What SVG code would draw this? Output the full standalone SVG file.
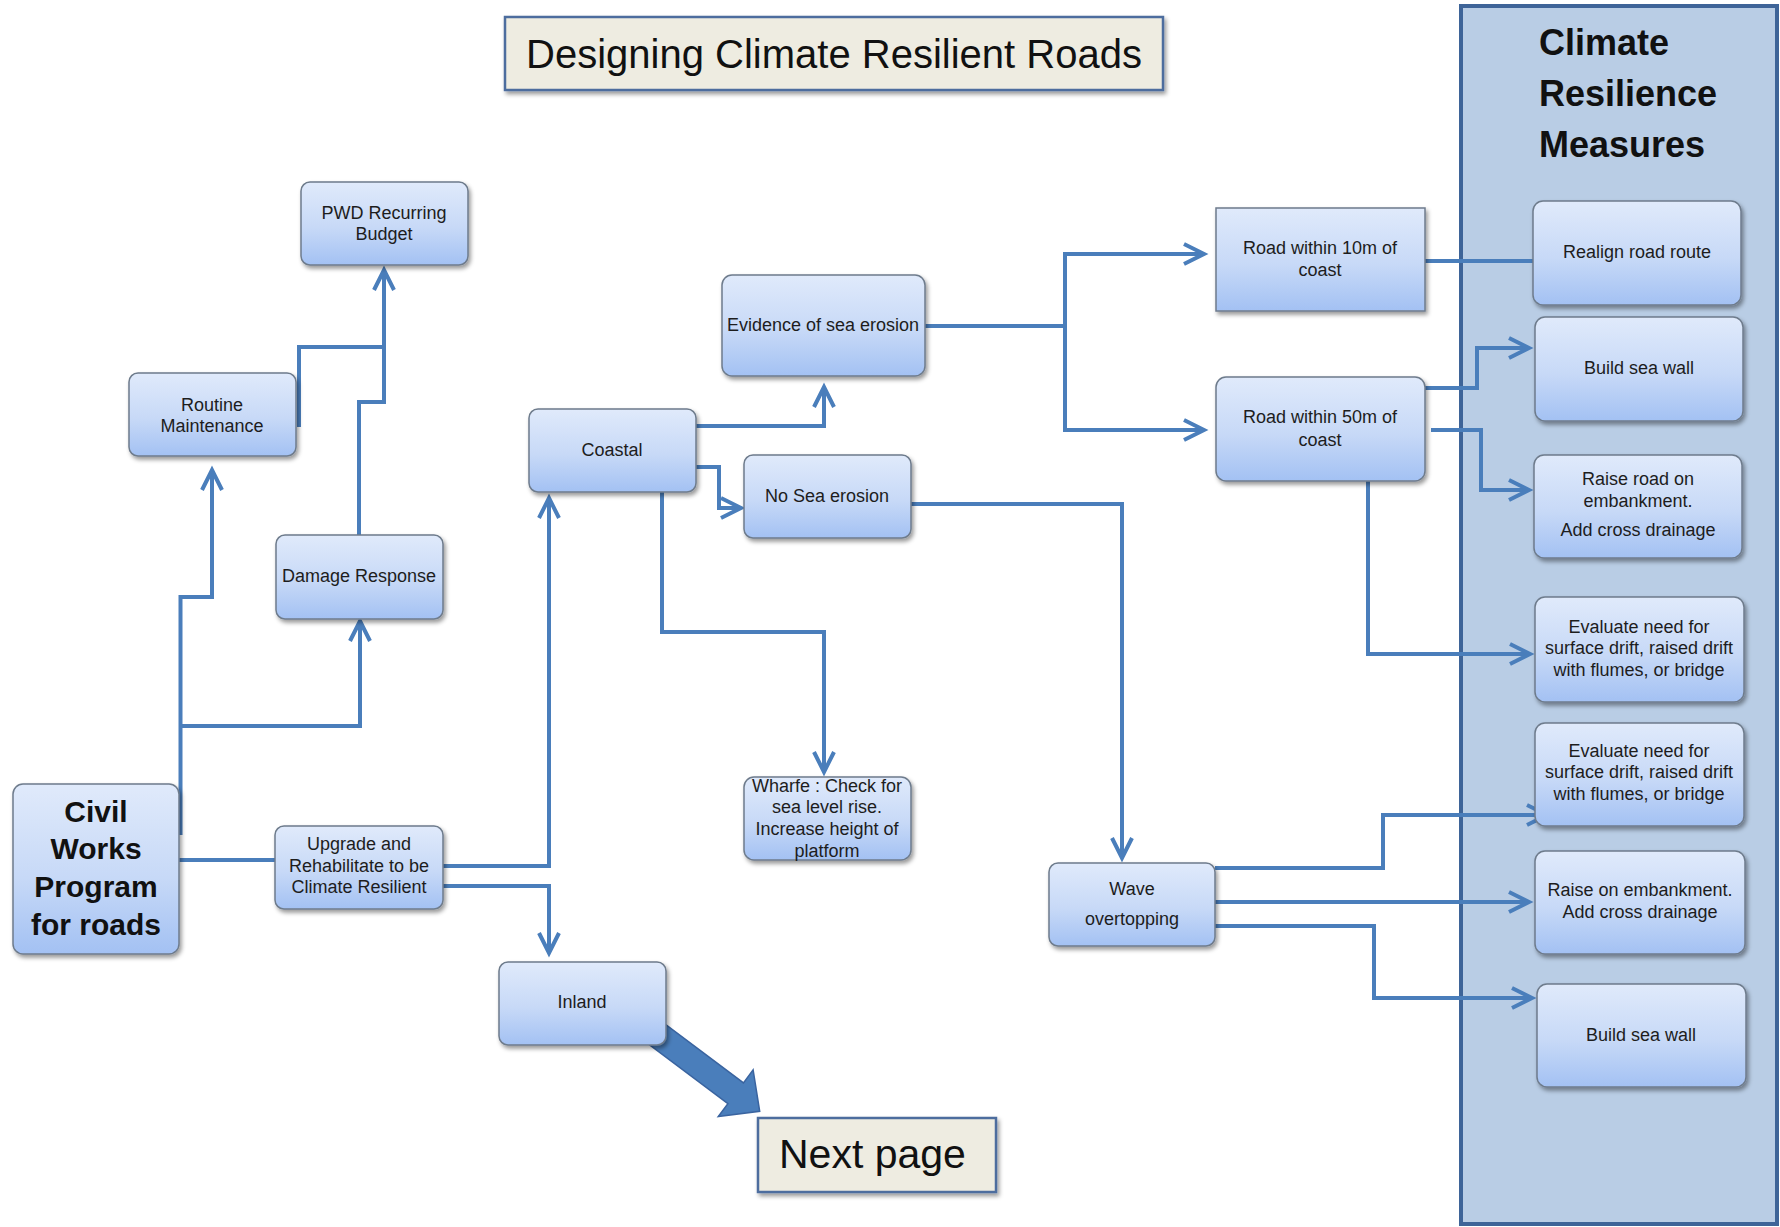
<svg xmlns="http://www.w3.org/2000/svg" width="1780" height="1227" viewBox="0 0 1780 1227">
<defs>
<linearGradient id="gBox" x1="0" y1="0" x2="0" y2="1">
<stop offset="0" stop-color="#e0eafb"/>
<stop offset="0.55" stop-color="#c7d9f7"/>
<stop offset="1" stop-color="#a3c1f3"/>
</linearGradient>
<filter id="sh" x="-10%" y="-10%" width="130%" height="140%">
<feDropShadow dx="2" dy="3" stdDeviation="2" flood-color="#000" flood-opacity="0.4"/>
</filter>
<marker id="arr" markerUnits="userSpaceOnUse" viewBox="-26 -15 30 30" refX="0" refY="0" markerWidth="30" markerHeight="30" orient="auto" overflow="visible">
<path d="M-20,-10 L0,0 L-20,10" fill="none" stroke="#4a7ebb" stroke-width="4" stroke-linejoin="miter"/>
</marker>
</defs>
<style>
.box{fill:url(#gBox);stroke:#6e7b8c;stroke-width:1.5;filter:url(#sh)}
.t{font-family:"Liberation Sans",Arial,sans-serif;font-size:18px;fill:#1d1d1d;text-anchor:middle}
.b{font-family:"Liberation Sans",Arial,sans-serif;font-weight:bold;fill:#111}
.c{fill:none;stroke:#4a7ebb;stroke-width:4;stroke-linejoin:miter}
.a{marker-end:url(#arr)}
.note{fill:#eeece1;stroke:#4d6d9e;stroke-width:2.5;filter:url(#sh)}
</style>

<g id="measures-panel">
<rect x="1461" y="6" width="316" height="1218" fill="#b9cde5" stroke="#3e6498" stroke-width="4"/>
<text class="b" x="1539" y="55" font-size="36">Climate</text>
<text class="b" x="1539" y="106" font-size="36">Resilience</text>
<text class="b" x="1539" y="157" font-size="36">Measures</text>
</g>

<g id="title">
<rect class="note" x="505" y="17" width="658" height="73"/>
<text x="834" y="68" font-family="Liberation Sans, Arial, sans-serif" font-size="40" fill="#111" text-anchor="middle">Designing Climate Resilient Roads</text>
</g>

<g id="connectors">
<path class="c a" d="M180.5,835 V597 H212 V470"/>
<path class="c a" d="M180.5,726 H360 V621"/>
<path class="c a" d="M299,427 V347 H384 V270"/>
<path class="c" d="M359,535 V402 H384 V347"/>
<path class="c" d="M179,860 H275"/>
<path class="c a" d="M441,866 H549 V498"/>
<path class="c a" d="M441,886 H549 V953"/>
<path class="c a" d="M696,426 H824 V387"/>
<path class="c a" d="M696,467 H719 V508 H741"/>
<path class="c a" d="M662,492 V632 H824 V772"/>
<path class="c a" d="M910,504 H1122 V858"/>
<path class="c" d="M925,326 H1065"/>
<path class="c" d="M1065,252 V432"/>
<path class="c a" d="M1065,254 H1204"/>
<path class="c a" d="M1065,430 H1204"/>
<path class="c" d="M1425,261 H1533"/>
<path class="c a" d="M1425,388 H1477 V348 H1529"/>
<path class="c a" d="M1431,430 H1481 V490 H1529"/>
<path class="c a" d="M1368,481 V654 H1530"/>
<path class="c a" d="M1215,868 H1383 V815 H1547"/>
<path class="c a" d="M1215,902 H1529"/>
<path class="c a" d="M1215,926 H1374 V998 H1532"/>
<polygon points="631.5,998.9 743.5,1082.9 753.1,1069.9 759.7,1111.3 718.3,1116.5 727.9,1103.7 615.9,1019.7" fill="#4a7ebb" stroke="#3a64a0" stroke-width="1.5"/>
</g>

<g id="pwd-budget">
<rect class="box" x="301" y="182" width="167" height="83" rx="9"/>
<text class="t" x="384" y="219">PWD Recurring</text>
<text class="t" x="384" y="240">Budget</text>
</g>
<g id="routine-maintenance">
<rect class="box" x="129" y="373" width="167" height="83" rx="9"/>
<text class="t" x="212" y="411">Routine</text>
<text class="t" x="212" y="432">Maintenance</text>
</g>
<g id="damage-response">
<rect class="box" x="276" y="535" width="167" height="84" rx="9"/>
<text class="t" x="359" y="582">Damage Response</text>
</g>
<g id="civil-works">
<rect class="box" x="13" y="784" width="166" height="170" rx="10"/>
<text class="b" x="96" y="822" font-size="30" text-anchor="middle">Civil</text>
<text class="b" x="96" y="859" font-size="30" text-anchor="middle">Works</text>
<text class="b" x="96" y="897" font-size="30" text-anchor="middle">Program</text>
<text class="b" x="96" y="935" font-size="30" text-anchor="middle">for roads</text>
</g>
<g id="upgrade">
<rect class="box" x="275" y="826" width="168" height="83" rx="9"/>
<text class="t" x="359" y="850">Upgrade and</text>
<text class="t" x="359" y="872">Rehabilitate to be</text>
<text class="t" x="359" y="893">Climate Resilient</text>
</g>
<g id="inland">
<rect class="box" x="499" y="962" width="167" height="83" rx="9"/>
<text class="t" x="582" y="1008">Inland</text>
</g>
<g id="coastal">
<rect class="box" x="529" y="409" width="167" height="83" rx="9"/>
<text class="t" x="612" y="456">Coastal</text>
</g>
<g id="evidence-erosion">
<rect class="box" x="722" y="275" width="203" height="101" rx="10"/>
<text class="t" x="823" y="331">Evidence of sea erosion</text>
</g>
<g id="no-erosion">
<rect class="box" x="744" y="455" width="167" height="83" rx="9"/>
<text class="t" x="827" y="502">No Sea erosion</text>
</g>
<g id="wharfe">
<rect class="box" x="744" y="777" width="167" height="83" rx="10"/>
<text class="t" x="827" y="792">Wharfe : Check for</text>
<text class="t" x="827" y="813">sea level rise.</text>
<text class="t" x="827" y="835">Increase height of</text>
<text class="t" x="827" y="857">platform</text>
</g>
<g id="road-10m">
<rect class="box" x="1216" y="208" width="209" height="103"/>
<text class="t" x="1320" y="254">Road within 10m of</text>
<text class="t" x="1320" y="276">coast</text>
</g>
<g id="road-50m">
<rect class="box" x="1216" y="377" width="209" height="104" rx="10"/>
<text class="t" x="1320" y="423">Road within 50m of</text>
<text class="t" x="1320" y="446">coast</text>
</g>
<g id="wave-overtopping">
<rect class="box" x="1049" y="863" width="166" height="83" rx="9"/>
<text class="t" x="1132" y="895">Wave</text>
<text class="t" x="1132" y="925">overtopping</text>
</g>
<g id="realign">
<rect class="box" x="1533" y="201" width="208" height="104" rx="10"/>
<text class="t" x="1637" y="258">Realign road route</text>
</g>
<g id="sea-wall-1">
<rect class="box" x="1535" y="317" width="208" height="104" rx="10"/>
<text class="t" x="1639" y="374">Build sea wall</text>
</g>
<g id="raise-road">
<rect class="box" x="1534" y="455" width="208" height="103" rx="10"/>
<text class="t" x="1638" y="485">Raise road on</text>
<text class="t" x="1638" y="507">embankment.</text>
<text class="t" x="1638" y="536">Add cross drainage</text>
</g>
<g id="evaluate-1">
<rect class="box" x="1535" y="597" width="209" height="105" rx="10"/>
<text class="t" x="1639" y="633">Evaluate need for</text>
<text class="t" x="1639" y="654">surface drift, raised drift</text>
<text class="t" x="1639" y="676">with flumes, or bridge</text>
</g>
<g id="evaluate-2">
<rect class="box" x="1535" y="723" width="209" height="103" rx="10"/>
<text class="t" x="1639" y="757">Evaluate need for</text>
<text class="t" x="1639" y="778">surface drift, raised drift</text>
<text class="t" x="1639" y="800">with flumes, or bridge</text>
</g>
<g id="raise-embankment">
<rect class="box" x="1535" y="851" width="210" height="103" rx="10"/>
<text class="t" x="1640" y="896">Raise on embankment.</text>
<text class="t" x="1640" y="918">Add cross drainage</text>
</g>
<g id="sea-wall-2">
<rect class="box" x="1537" y="984" width="209" height="103" rx="10"/>
<text class="t" x="1641" y="1041">Build sea wall</text>
</g>

<g id="next-page">
<rect class="note" x="758" y="1118" width="238" height="74"/>
<text x="779" y="1168" font-family="Liberation Sans, Arial, sans-serif" font-size="41" fill="#111">Next page</text>
</g>
</svg>
